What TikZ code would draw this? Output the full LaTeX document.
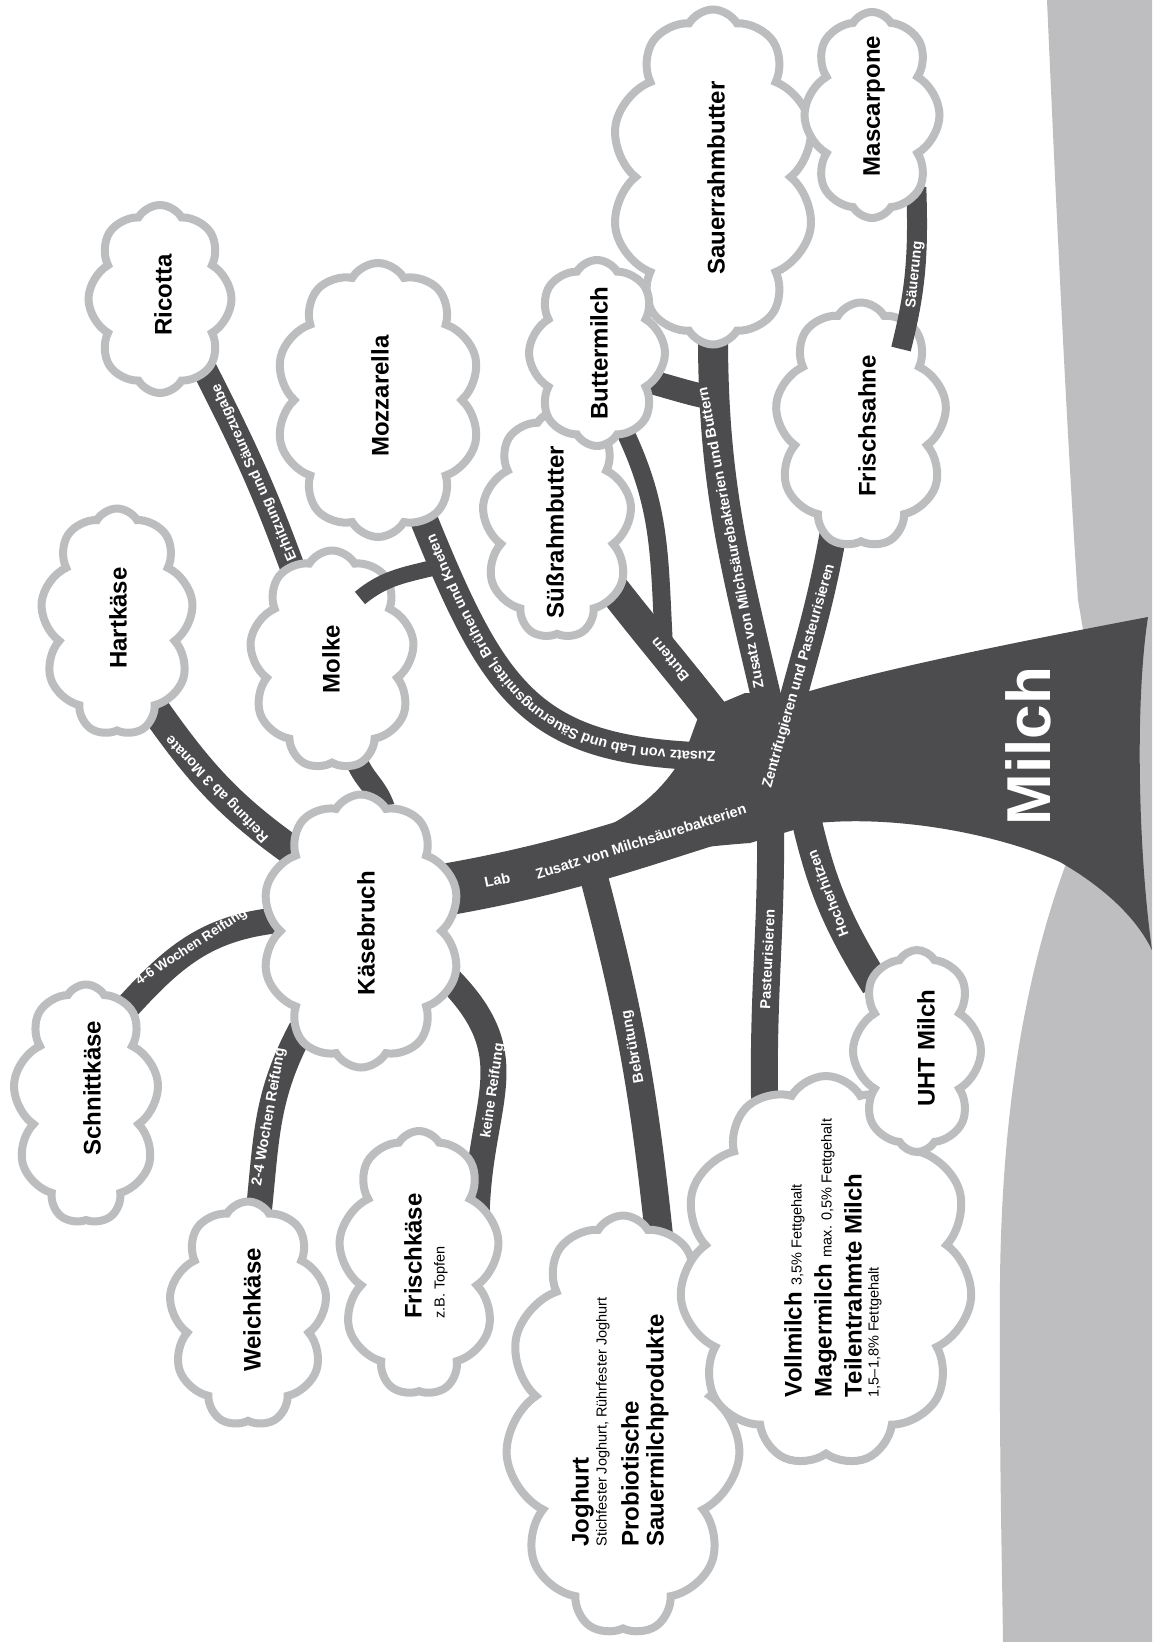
\documentclass[tikz,border=0pt]{standalone}
\usepackage{fontspec}
\setmainfont{Liberation Sans}
\usetikzlibrary{shapes.symbols, decorations.text}

\definecolor{bark}{RGB}{76,76,78}
\definecolor{puffgrey}{RGB}{188,189,191}
\definecolor{groundgrey}{RGB}{190,190,192}

\newcommand{\fineprint}{\mdseries\fontsize{14.5}{16}\selectfont}

\pgfdeclarelayer{background}
\pgfdeclarelayer{front}
\pgfsetlayers{background,main,front}

\begin{document}
\begin{tikzpicture}[x=1pt, y=-1pt,
    puff/.style={cloud, cloud ignores aspect, cloud puff arc=120, draw=puffgrey, line width=8pt, fill=white, inner sep=0pt},
    puffname/.style={rotate=90, inner sep=0pt, align=left, font=\bfseries\fontsize{24}{30}\selectfont},
    branch/.style={draw=bark, line cap=butt},
    sunk/.style={shorten <=-12pt, shorten >=-12pt},
    twig/.style={sloped, allow upside down, inner sep=0pt, text=white, font=\bfseries\fontsize{14.5}{16}\selectfont}]

\useasboundingbox (0,0) rectangle (1152,1642);

% Clouds (name/x/y/width/height/puffs)
\foreach \n/\x/\y/\w/\h/\p in {
    ricotta/160/299/143/188/8, hart/117/622/153/227/9, mozz/378/400/205/274/10,
    molke/332/660/165/219/9, kaese/361/931/199/273/10, schnitt/86/1104/146/239/9,
    weich/248/1314/158/225/9, frischk/419/1263/161/264/9, jog/623/1425/235/419/11,
    vmilch/826/1271/293/390/11, uht/917/1051/128/202/8, suess/557/525/150/227/9,
    sauer/713/177/205/335/10, bmilch/597/353/136/186/8, fsahne/861/425/172/245/9}
    \node[puff, cloud puffs=\p, minimum width=\w pt, minimum height=\h pt] (\n) at (\x,\y) {};

\begin{pgfonlayer}{front}
    \node[puff, cloud puffs=8, minimum width=135pt, minimum height=206pt] (masc) at (872,115) {};
    \node[puffname] (masc-t) at (874,106) {Mascarpone};
\end{pgfonlayer}

% Cloud texts
\foreach \n/\x/\y/\t in {
    ricotta/163/295/Ricotta, hart/118/618/Hartkäse, mozz/380/396/Mozzarella,
    molke/331/659/Molke, kaese/366/933/Käsebruch, schnitt/92/1088/Schnittkäse,
    weich/252/1310/Weichkäse, uht/926/1048/UHT Milch, suess/555/532/Süßrahmbutter,
    bmilch/599/353/Buttermilch, sauer/716/178/Sauerrahmbutter, fsahne/867/426/Frischsahne}
    \node[puffname] (\n-t) at (\x,\y) {\t};

\node[puffname] (frischk-t) at (426,1256) {Frischkäse\\[-7pt]{\fineprint z.B. Topfen}};
\node[puffname] (jog-t) at (620,1422) {Joghurt\\[-12pt]{\fineprint Stichfester Joghurt, Rührfester Joghurt}\\[2pt]Probiotische\\[-5pt]Sauermilchprodukte};
\node[puffname] (vmilch-t) at (833,1258) {Vollmilch {\fineprint 3,5\% Fettgehalt}\\Magermilch {\fineprint max. 0,5\% Fettgehalt}\\Teilentrahmte Milch\\[-13pt]{\fineprint 1,5–1,8\% Fettgehalt}};

% Joints on the trunk
\coordinate (tMain) at (790,795);
\coordinate (tLab) at (728,757);
\coordinate (tButt) at (712,712);
\coordinate (tSauer) at (768,705);
\coordinate (tZent) at (772,790);
\coordinate (tPast) at (770,800);
\coordinate (tHoch) at (803,805);
\coordinate (tBeb) at (592,870);
\coordinate (tFork) at (663,628);
\coordinate (tStub) at (712,398);
\coordinate (tHook) at (440,566);

\begin{pgfonlayer}{background}
    \fill[white] (0,0) rectangle (1152,1642);
    % ground
    \fill[groundgrey] (1047,0) .. controls (1058,250) and (1068,450) .. (1078,600) -- (1095,700) -- (1100,800)
        -- (1072,848) .. controls (1028,960) and (1002,1100) .. (1000,1280) .. controls (999,1450) and (1002,1560) .. (1003,1642)
        -- (1152,1642) -- (1152,0) -- cycle;
    % trunk
    \fill[bark] (1148,617) .. controls (1000,645) and (880,670) .. (803,693) -- (745,693) -- (700,712) -- (688,745)
        .. controls (672,782) and (640,812) .. (592,834) -- (620,855) .. controls (680,850) and (720,845) .. (750,843)
        -- (817,823) .. controls (900,815) and (1000,835) .. (1060,862)
        .. controls (1100,885) and (1135,915) .. (1152,950) .. controls (1138,850) and (1135,700) .. (1148,617) -- cycle;

    % branches
    \draw[branch, sunk, line width=30pt] (uht.122) to[out=122, in=-78] node[twig, pos=.5] {Hocherhitzen} (tHoch);
    \draw[branch, sunk, line width=27pt] (vmilch.109) to[out=91, in=-88] node[twig, pos=.45] {Pasteurisieren} (tPast);
    \draw[branch, sunk, line width=28pt] (jog.80) to[out=96, in=-75] node[twig, pos=.5] {Bebrütung} (tBeb);
    \draw[branch, sunk, line width=26pt] (frischk.48) to[out=88, in=-45, looseness=1.2] node[twig, pos=.45] {keine Reifung} (kaese.-30);
    \draw[branch, sunk, line width=26pt] (weich.84) to[out=84, in=-118] node[twig, pos=.5] {2-4 Wochen Reifung} (kaese.239);
    \draw[branch, sunk, line width=26pt] (schnitt.66) to[out=48, in=186] node[twig, pos=.5, font=\bfseries\fontsize{13.5}{15}\selectfont] {4-6 Wochen Reifung} (kaese.174);
    \draw[branch, sunk, line width=30pt] (kaese.131) to[out=145, in=-55] node[twig, pos=.5] {Reifung ab 3 Monate} (hart.-66);
    \draw[branch, sunk, line width=25pt] (molke.113) to[out=110, in=-63] node[twig, pos=.47] {Erhitzung und Säurezugabe} (ricotta.-58);
    \draw[branch, sunk, line width=22pt] (kaese.82) to[out=110, in=-70] (molke.-76);
    \draw[branch, sunk, line width=18pt] (bmilch.-70) to[out=-64, in=93] (tFork);
    \draw[branch, sunk, line width=32pt] (tButt) to[out=128, in=-52] node[twig, pos=.45] {Buttern} (suess.-49);
    \draw[branch, sunk, line width=24pt] (bmilch.-27) to[out=-15, in=170] (tStub);
    \draw[branch, sunk, line width=30pt] (tSauer) to[out=103, in=-90] node[twig, pos=.47] {Zusatz von Milchsäurebakterien und Buttern} (sauer.-90);
    \draw[branch, sunk, line width=28pt, postaction={decorate},
        decoration={text along path, text color=white, text align=center, raise=-5pt,
        text={|\bfseries\fontsize{14.5}{16}\selectfont|Zusatz von Lab und Säuerungsmittel, Brühen und Kneten}}]
        (tLab) to[out=180, in=-68, looseness=1.3] (mozz.-69);
    \draw[branch, sunk, line width=52pt] (kaese.24) to[out=10, in=196]
        node[twig, pos=.1] {Lab} node[twig, pos=.55] {Zusatz von Milchsäurebakterien} (tMain);
    \draw[branch, sunk, line width=27pt] (tZent) to[out=80, in=-100] node[twig, pos=.46] {Zentrifugieren und Pasteurisieren} (fsahne.-104);
\end{pgfonlayer}

% branches lying over a cloud
\draw[branch, line width=16pt] ([shift={(28,-62)}]molke.center) to[out=40, in=195] (tHook);
\draw[branch, line width=20pt, shorten >=-12pt] ([shift={(40,-76)}]fsahne.center) to[out=76, in=-88] node[twig, pos=.5] {Säuerung} (masc.-62);

\node[rotate=90, text=white, inner sep=0pt, font=\bfseries\fontsize{62}{62}\selectfont] (milch) at (1028,746) {Milch};

\end{tikzpicture}
\end{document}
